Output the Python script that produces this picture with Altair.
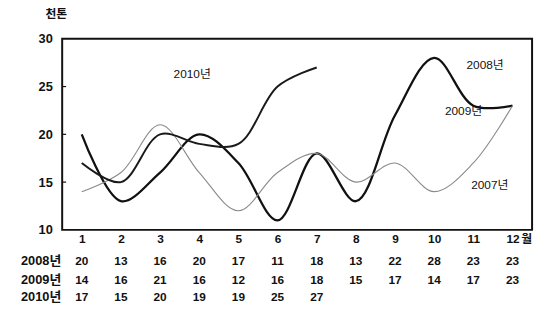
import altair as alt
import pandas as pd

months = list(range(1, 13))
s2008 = [20, 13, 16, 20, 17, 11, 18, 13, 22, 28, 23, 23]
s2009 = [14, 16, 21, 16, 12, 16, 18, 15, 17, 14, 17, 23]
s2010 = [17, 15, 20, 19, 19, 25, 27]
row_names = ["2008년", "2009년", "2010년"]
y_ticks = [10, 15, 20, 25, 30]
annot_text = ["2010년", "2008년", "2009년", "2007년"]
annot_x = [3.82, 11.3, 10.75, 11.42]
annot_y = [26.3, 27.3, 22.4, 14.7]

FONT = "Liberation Sans, Noto Sans CJK KR"
W, H = 477, 194

rows = []
for name, vals in zip(row_names, [s2008, s2009, s2010]):
    for m, v in zip(months, vals):
        rows.append({"month": m, "value": v, "series": name})
df = pd.DataFrame(rows)

xs = alt.Scale(domain=[0.5, 12.5], nice=False, zero=False)
ys = alt.Scale(domain=[10, 30], nice=False, zero=False)

x_axis = alt.Axis(values=months, title=None, grid=False, ticks=False, domain=False,
                  labelPadding=4, labelFontSize=12, labelFont=FONT, labelFontWeight="bold",
                  labelColor="#111", labelFlush=False)
y_axis = alt.Axis(values=y_ticks, title=None, grid=False, ticks=False, domain=False,
                  labelPadding=10, labelFontSize=13, labelFont=FONT, labelFontWeight="bold",
                  labelColor="#111")

styles = {"2008년": ("#111111", 2.3), "2009년": ("#8a8a8a", 1.1), "2010년": ("#1a1a1a", 2.0)}
line_layers = []
for i, name in enumerate(row_names):
    color, sw = styles[name]
    if i == 0:
        xe = alt.X("month:Q", scale=xs, axis=x_axis)
        ye = alt.Y("value:Q", scale=ys, axis=y_axis)
    else:
        xe = alt.X("month:Q", scale=xs)
        ye = alt.Y("value:Q", scale=ys)
    line_layers.append(
        alt.Chart(df[df.series == name]).mark_line(
            interpolate="catmull-rom", color=color, strokeWidth=sw
        ).encode(x=xe, y=ye)
    )

tick_df = pd.DataFrame({"t": y_ticks[1:-1]})
ticks = alt.Chart(tick_df).mark_rule(color="#111", strokeWidth=1.2).encode(
    y=alt.Y("t:Q", scale=ys), x=alt.value(0), x2=alt.value(4)
)

ann_df = pd.DataFrame({"text": annot_text, "x": annot_x, "y": annot_y})
annots = alt.Chart(ann_df).mark_text(font=FONT, fontSize=12, color="#111").encode(
    x=alt.X("x:Q", scale=xs), y=alt.Y("y:Q", scale=ys), text="text:N"
)

unit = alt.Chart(pd.DataFrame({"t": ["천톤"]})).mark_text(
    font=FONT, fontSize=12, fontWeight="bold", color="#111"
).encode(x=alt.value(-6), y=alt.value(-25), text="t:N")

month_unit = alt.Chart(pd.DataFrame({"t": ["월"]})).mark_text(
    font=FONT, fontSize=12, fontWeight="bold", color="#111", align="left"
).encode(x=alt.value(W - 11), y=alt.value(H + 9), text="t:N")

row_y = [226, 245, 262]
table_layers = []
for name, ry in zip(row_names, row_y):
    sub = df[df.series == name]
    table_layers.append(
        alt.Chart(sub).mark_text(font=FONT, fontSize=12, fontWeight="bold", color="#111").encode(
            x=alt.X("month:Q", scale=xs), y=alt.value(ry), text="value:Q"
        )
    )
    table_layers.append(
        alt.Chart(pd.DataFrame({"t": [name]})).mark_text(
            font=FONT, fontSize=13, fontWeight="bold", color="#111", align="right"
        ).encode(x=alt.value(-1), y=alt.value(ry), text="t:N")
    )

chart = alt.layer(*line_layers, ticks, annots, unit, month_unit, *table_layers).properties(
    width=W, height=H,
    autosize=alt.AutoSizeParams(type="none"),
    padding={"left": 55, "top": 29, "right": 5, "bottom": 73},
).configure(background="white").configure_view(stroke="#111", strokeWidth=2)

chart.save("out.html", embed_options={"renderer": "svg", "actions": False})
